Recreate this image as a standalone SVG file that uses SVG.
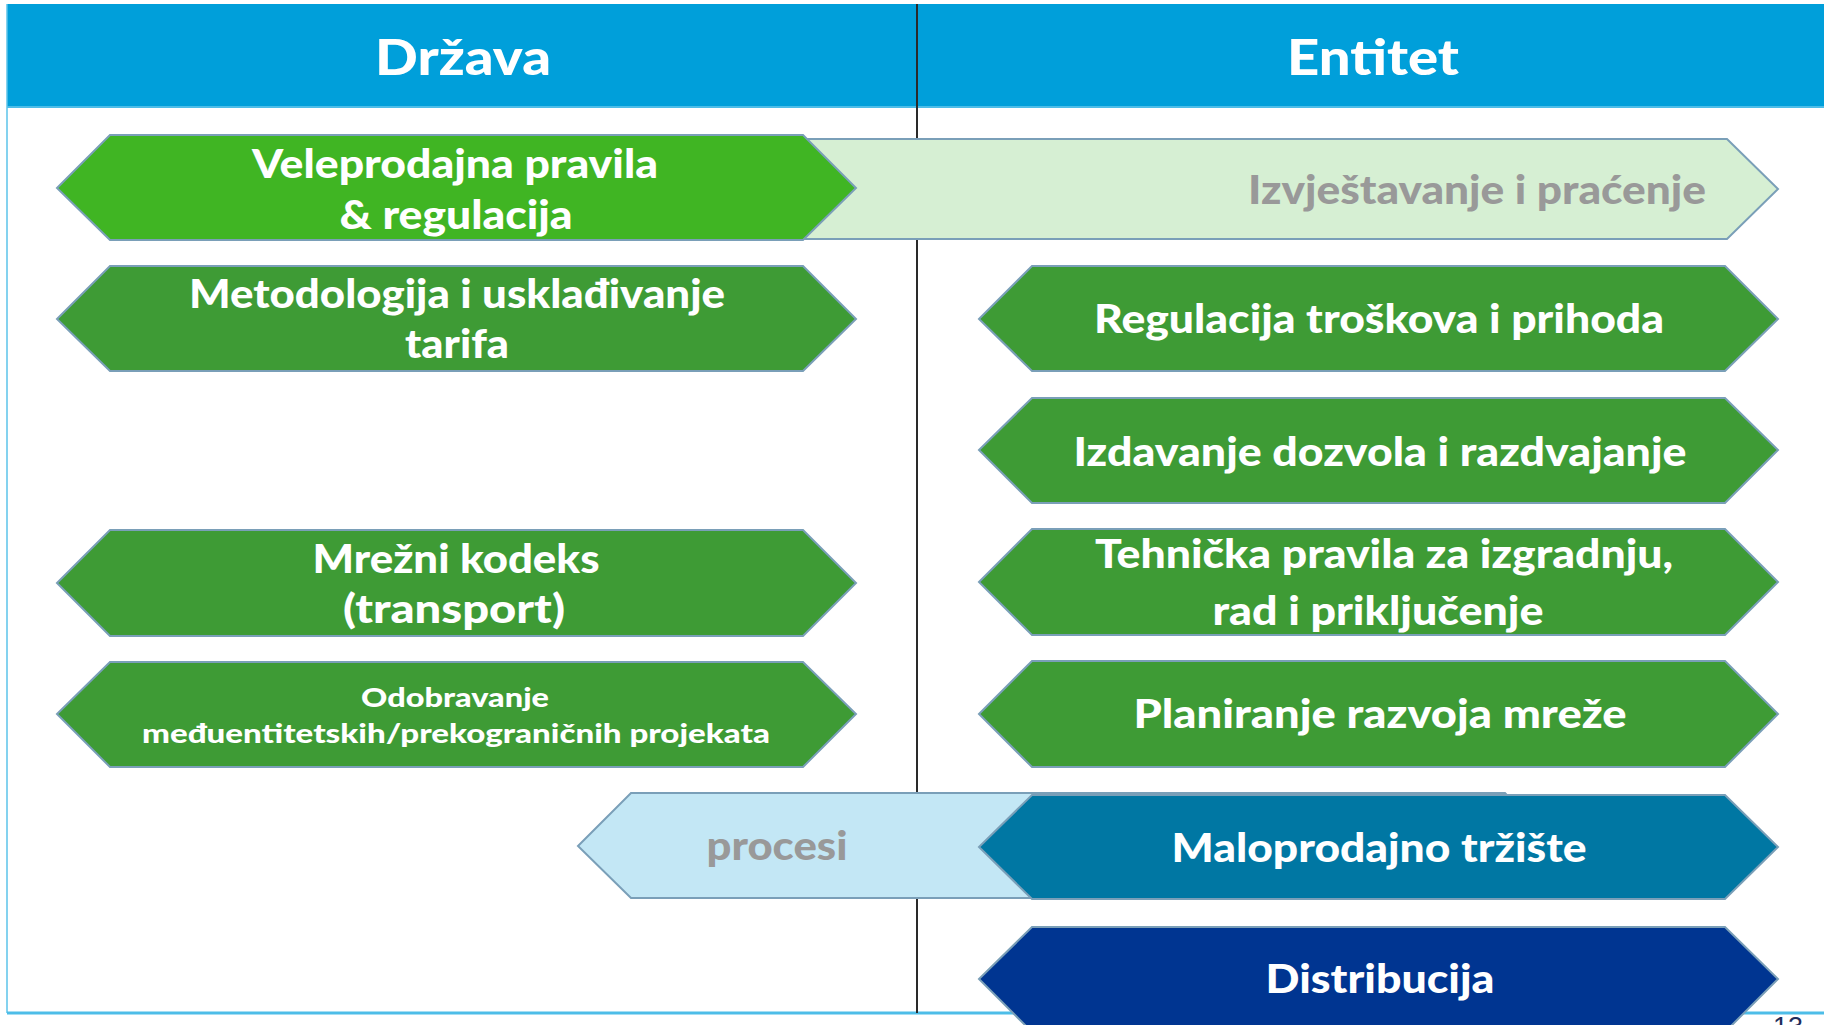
<svg xmlns="http://www.w3.org/2000/svg" width="1824" height="1025" viewBox="0 0 1824 1025">
<style>
.hex{stroke:#7A9FB8;stroke-width:2;stroke-linejoin:miter}
.g1{fill:#40B523}
.g2{fill:#3E9B35}
.lg{fill:#D6EFD3}
.lb{fill:#C3E7F5}
.teal{fill:#0077A3}
.navy{fill:#003591}
.t{font-family:Lato,"Open Sans","Liberation Sans",sans-serif;font-weight:900;font-size:40px;fill:#FFFFFF;text-anchor:middle}
.s{font-size:26px}
.gray{fill:#999999}
.h{font-size:50px}
</style>
<rect x="0" y="0" width="1824" height="1025" fill="#FFFFFF"/>
<g id="frame">
<rect x="7" y="4" width="1817" height="103" fill="#009FDA"/>
<line x1="7" y1="107" x2="1824" y2="107" stroke="#4DBDE8" stroke-width="2"/>
<line x1="7" y1="4" x2="7" y2="1013" stroke="#5BC3EA" stroke-width="1.5"/>
<line x1="7" y1="1013" x2="1824" y2="1013" stroke="#4DBDE8" stroke-width="3"/>
<line x1="917" y1="4" x2="917" y2="1013" stroke="#2A2A2A" stroke-width="2"/>
</g>
<g id="header-drzava"><text class="t h" x="463" y="75" textLength="176" lengthAdjust="spacingAndGlyphs">Država</text></g>
<g id="header-entitet"><text class="t h" x="1373" y="75" textLength="172" lengthAdjust="spacingAndGlyphs">Entitet</text></g>
<g id="connectors"></g>
<g id="izvjestavanje">
<polygon class="hex lg" points="620,189 669,139 1727,139 1778,189 1727,239 669,239"/>
<text class="t gray" x="1477" y="204" textLength="458" lengthAdjust="spacingAndGlyphs">Izvještavanje i praćenje</text>
</g>
<g id="veleprodajna">
<polygon class="hex g1" points="57,188 110,135 803,135 856,188 803,240 110,240"/>
<text class="t" x="455" y="178" textLength="406" lengthAdjust="spacingAndGlyphs">Veleprodajna pravila</text>
<text class="t" x="456" y="229" textLength="233" lengthAdjust="spacingAndGlyphs">&amp; regulacija</text>
</g>
<g id="metodologija">
<polygon class="hex g2" points="57,319 110,266 803,266 856,319 803,371 110,371"/>
<text class="t" x="457" y="308" textLength="536" lengthAdjust="spacingAndGlyphs">Metodologija i usklađivanje</text>
<text class="t" x="457" y="358" textLength="104" lengthAdjust="spacingAndGlyphs">tarifa</text>
</g>
<g id="regulacija">
<polygon class="hex g2" points="979,319 1032,266 1725,266 1778,319 1725,371 1032,371"/>
<text class="t" x="1379" y="333" textLength="570" lengthAdjust="spacingAndGlyphs">Regulacija troškova i prihoda</text>
</g>
<g id="izdavanje">
<polygon class="hex g2" points="979,450 1032,398 1725,398 1778,450 1725,503 1032,503"/>
<text class="t" x="1380" y="466" textLength="613" lengthAdjust="spacingAndGlyphs">Izdavanje dozvola i razdvajanje</text>
</g>
<g id="mrezni">
<polygon class="hex g2" points="57,583 110,530 803,530 856,583 803,636 110,636"/>
<text class="t" x="456" y="573" textLength="287" lengthAdjust="spacingAndGlyphs">Mrežni kodeks</text>
<text class="t" x="454" y="623" textLength="222" lengthAdjust="spacingAndGlyphs">(transport)</text>
</g>
<g id="tehnicka">
<polygon class="hex g2" points="979,582 1032,529 1725,529 1778,582 1725,635 1032,635"/>
<text class="t" x="1384" y="568" textLength="578" lengthAdjust="spacingAndGlyphs">Tehnička pravila za izgradnju,</text>
<text class="t" x="1378" y="625" textLength="331" lengthAdjust="spacingAndGlyphs">rad i priključenje</text>
</g>
<g id="odobravanje">
<polygon class="hex g2" points="57,714 110,662 803,662 856,714 803,767 110,767"/>
<text class="t s" x="455" y="707" textLength="188" lengthAdjust="spacingAndGlyphs">Odobravanje</text>
<text class="t s" x="456" y="743" textLength="628" lengthAdjust="spacingAndGlyphs">međuentitetskih/prekograničnih projekata</text>
</g>
<g id="planiranje">
<polygon class="hex g2" points="979,714 1032,661 1725,661 1778,714 1725,767 1032,767"/>
<text class="t" x="1380" y="728" textLength="493" lengthAdjust="spacingAndGlyphs">Planiranje razvoja mreže</text>
</g>
<g id="procesi">
<polygon class="hex lb" points="578,846 631,793 1505,793 1555,846 1505,898 631,898"/>
<text class="t gray" x="777" y="860" textLength="141" lengthAdjust="spacingAndGlyphs">procesi</text>
</g>
<g id="maloprodajno">
<polygon class="hex teal" points="979,847 1032,795 1725,795 1778,847 1725,899 1032,899"/>
<text class="t" x="1379" y="862" textLength="415" lengthAdjust="spacingAndGlyphs">Maloprodajno tržište</text>
</g>
<g id="distribucija">
<polygon class="hex navy" points="979,979 1032,927 1725,927 1778,979 1725,1032 1032,1032"/>
<text class="t" x="1380" y="993" textLength="229" lengthAdjust="spacingAndGlyphs">Distribucija</text>
</g>
<g id="page-number">
<text x="1773" y="1036" font-family="'Liberation Sans',Arial,sans-serif" font-size="28" fill="#1F2D5C" textLength="30" lengthAdjust="spacingAndGlyphs">13</text>
</g>
</svg>
